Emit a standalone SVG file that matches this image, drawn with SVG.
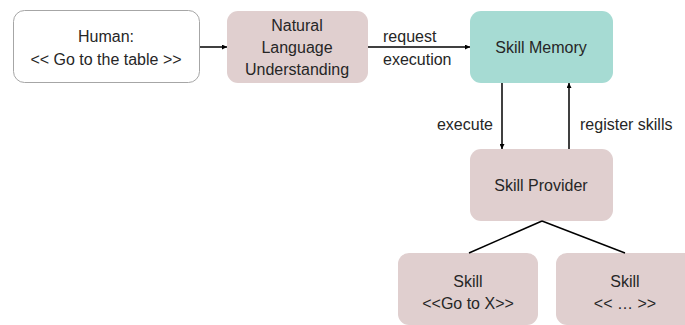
<svg xmlns="http://www.w3.org/2000/svg" width="685" height="325" viewBox="0 0 685 325">
<defs>
<style>
text{font-family:"Liberation Sans",Arial,sans-serif;font-size:16px;fill:#262626;text-anchor:middle;dominant-baseline:central}
.pink{fill:#e0cfcf;stroke:none}
.teal{fill:#a6dbd3;stroke:none}
.white{fill:#fff;stroke:#a6a6a6;stroke-width:1}
.ln{stroke:#000;stroke-width:1.5;fill:none}
</style>
<marker id="ah" viewBox="0 0 10 10" refX="10" refY="5" markerWidth="6" markerHeight="5" orient="auto" markerUnits="userSpaceOnUse">
<path d="M0,0L10,5L0,10z" fill="#000"/>
</marker>
</defs>
<rect width="685" height="325" fill="#fff"/>
<g id="human"><rect class="white" x="13.5" y="10.5" width="186" height="72" rx="11"/><text x="106" y="36">Human:</text><text x="106" y="59">&lt;&lt; Go to the table &gt;&gt;</text></g>
<g id="nlu"><rect class="pink" x="227" y="11" width="141" height="72" rx="11"/><text x="297" y="25">Natural</text><text x="297" y="47">Language</text><text x="297" y="69">Understanding</text></g>
<g id="memory"><rect class="teal" x="470" y="11" width="143" height="72" rx="11"/><text x="541" y="47">Skill Memory</text></g>
<g id="provider"><rect class="pink" x="470" y="149" width="143" height="72" rx="11"/><text x="541" y="185">Skill Provider</text></g>
<g id="skill1"><rect class="pink" x="398" y="253" width="140" height="72" rx="11"/><text x="468" y="281">Skill</text><text x="468" y="303">&lt;&lt;Go to X&gt;&gt;</text></g>
<g id="skill2"><rect class="pink" x="556" y="253" width="140" height="72" rx="11"/><text x="625" y="281">Skill</text><text x="625" y="303">&lt;&lt; … &gt;&gt;</text></g>
<g id="connectors">
<line class="ln" x1="200" y1="47" x2="227" y2="47" marker-end="url(#ah)"/>
<line class="ln" x1="368" y1="47" x2="470" y2="47" marker-end="url(#ah)"/>
<text x="383" y="36" style="text-anchor:start">request</text><text x="383" y="59" style="text-anchor:start">execution</text>
<line class="ln" x1="502" y1="83" x2="502" y2="149" marker-end="url(#ah)"/>
<text x="493" y="124" style="text-anchor:end">execute</text>
<line class="ln" x1="569" y1="149" x2="569" y2="83" marker-end="url(#ah)"/>
<text x="580" y="124" style="text-anchor:start">register skills</text>
<line class="ln" x1="542" y1="221" x2="469" y2="253"/>
<line class="ln" x1="542" y1="221" x2="625" y2="253"/>
</g>
</svg>
